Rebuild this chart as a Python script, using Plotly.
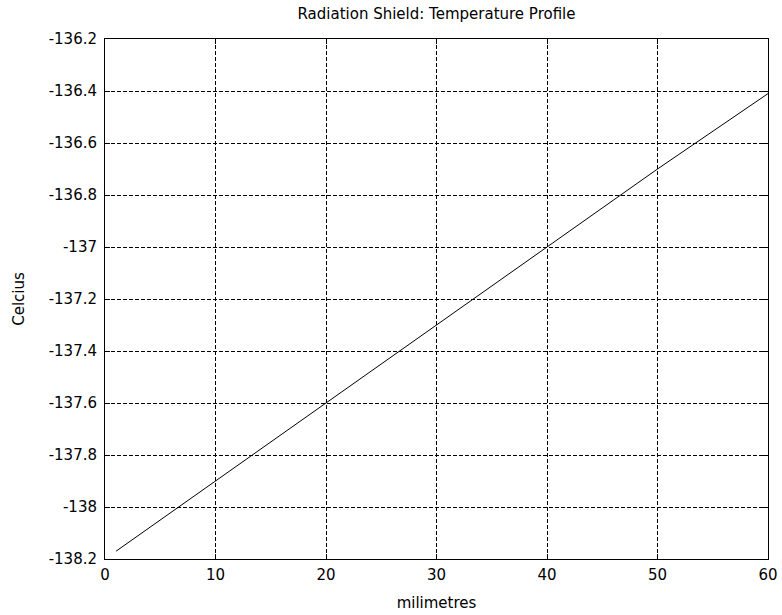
import plotly.graph_objects as go

x_mm = [1, 10, 20, 30, 40, 50, 60]
temp_c = [-138.17, -137.9, -137.6, -137.3, -137.0, -136.7, -136.41]
x_ticks = [0, 10, 20, 30, 40, 50, 60]
y_ticks = [-138.2, -138, -137.8, -137.6, -137.4, -137.2, -137, -136.8, -136.6, -136.4, -136.2]
y_tick_text = ["-138.2", "-138", "-137.8", "-137.6", "-137.4", "-137.2", "-137", "-136.8", "-136.6", "-136.4", "-136.2"]

font = dict(family="DejaVu Sans, Arial, sans-serif", size=15, color="black")

fig = go.Figure(go.Scatter(x=x_mm, y=temp_c, mode="lines",
                           line=dict(color="black", width=1)))

axis_common = dict(showline=True, linecolor="black", linewidth=1, mirror="ticks",
                   ticks="inside", ticklen=5, tickcolor="black", tickwidth=1,
                   showgrid=True, gridcolor="black", gridwidth=1, griddash="4px,2px",
                   zeroline=False, tickfont=font, automargin=False)

fig.update_layout(
    width=782, height=615,
    margin=dict(l=105, r=14, t=39, b=56),
    paper_bgcolor="white", plot_bgcolor="white",
    showlegend=False,
    font=font,
    title=dict(text="Radiation Shield: Temperature Profile", x=0.5, xanchor="center",
               xref="paper", y=1 - 14 / 615, yanchor="middle", yref="container",
               font=font),
    xaxis=dict(range=[0, 60], tickvals=x_ticks, ticktext=[str(v) for v in x_ticks],
               ticklabelstandoff=2,
               title=dict(text="milimetres", font=font, standoff=14), **axis_common),
    yaxis=dict(range=[-138.2, -136.2], tickvals=y_ticks, ticktext=y_tick_text,
               ticklabelstandoff=4,
               title=dict(text="Celcius", font=font, standoff=20), **axis_common),
)

fig.write_html("out.html")
